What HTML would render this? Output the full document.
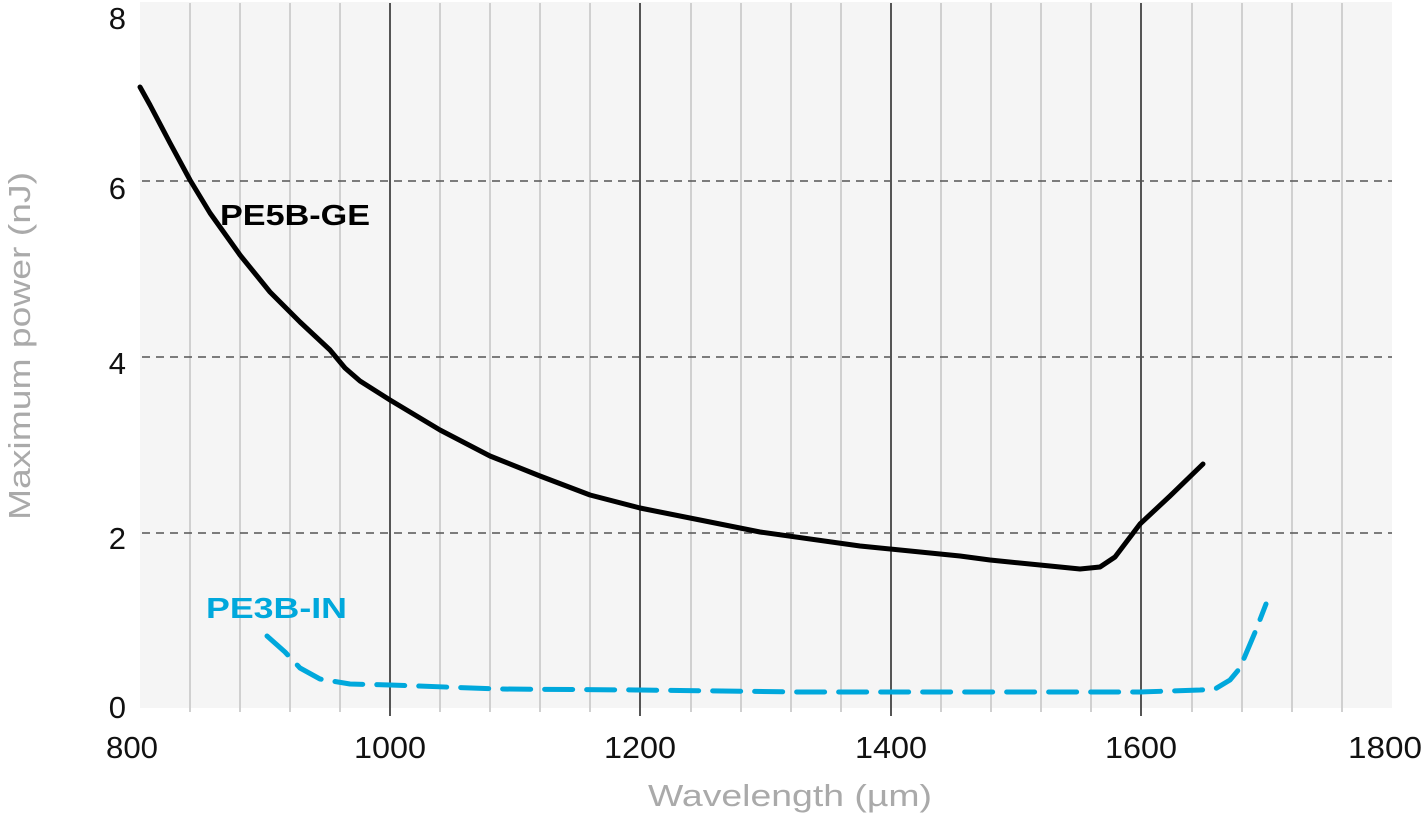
<!DOCTYPE html>
<html><head><meta charset="utf-8"><style>
html,body{margin:0;padding:0;background:#fff;}
svg{display:block;font-family:"Liberation Sans",sans-serif;}
</style></head><body>
<svg width="1425" height="815" viewBox="0 0 1425 815">
<rect x="140" y="2" width="1252" height="706" fill="#f5f5f5"/>
<g stroke="#d0d0d0" stroke-width="2">
<line x1="190" y1="3" x2="190" y2="712"/><line x1="240" y1="3" x2="240" y2="712"/><line x1="290" y1="3" x2="290" y2="712"/><line x1="340" y1="3" x2="340" y2="712"/>
<line x1="440" y1="3" x2="440" y2="712"/><line x1="490" y1="3" x2="490" y2="712"/><line x1="540" y1="3" x2="540" y2="712"/><line x1="590" y1="3" x2="590" y2="712"/>
<line x1="691" y1="3" x2="691" y2="712"/><line x1="741" y1="3" x2="741" y2="712"/><line x1="791" y1="3" x2="791" y2="712"/><line x1="841" y1="3" x2="841" y2="712"/>
<line x1="941" y1="3" x2="941" y2="712"/><line x1="991" y1="3" x2="991" y2="712"/><line x1="1041" y1="3" x2="1041" y2="712"/><line x1="1091" y1="3" x2="1091" y2="712"/>
<line x1="1192" y1="3" x2="1192" y2="712"/><line x1="1242" y1="3" x2="1242" y2="712"/><line x1="1292" y1="3" x2="1292" y2="712"/><line x1="1342" y1="3" x2="1342" y2="712"/>
</g>
<g stroke="#555" stroke-width="2">
<line x1="390" y1="3" x2="390" y2="716"/><line x1="640" y1="3" x2="640" y2="716"/><line x1="891" y1="3" x2="891" y2="716"/><line x1="1141" y1="3" x2="1141" y2="716"/>
</g>
<g stroke="#555" stroke-width="1.5" stroke-dasharray="8,6">
<line x1="142" y1="181" x2="1392" y2="181"/><line x1="142" y1="357" x2="1392" y2="357"/><line x1="142" y1="533" x2="1392" y2="533"/>
</g>
<path d="M140,87 L150,105 L170,143 L190,180 L210,213 L240,255 L270,292 L300,322 L330,350 L345,368 L360,381 L390,400 L440,430 L490,456 L540,476 L590,495 L640,508 L700,520 L760,532 L860,546 L960,556 L990,560 L1050,566 L1080,569 L1100,567 L1115,557 L1140,524 L1170,496 L1203,464" fill="none" stroke="#000" stroke-width="5" stroke-linejoin="round" stroke-linecap="round"/>
<path d="M267,636 L285,652 L300,668 L320,679 L350,684 L390,685 L500,689 L640,690 L800,692 L1000,692 L1140,692 L1200,690 L1215,689 L1230,680 L1240,668 L1245,656 L1256,630 L1266,604" fill="none" stroke="#00a8dc" stroke-width="5" stroke-dasharray="28,14" stroke-linecap="round" stroke-linejoin="round"/>
<text x="220" y="225" font-size="29" font-weight="bold" fill="#000" textLength="150" lengthAdjust="spacingAndGlyphs">PE5B-GE</text>
<text x="206" y="618" font-size="29" font-weight="bold" fill="#00a8dc" textLength="141" lengthAdjust="spacingAndGlyphs">PE3B-IN</text>
<g font-size="31" fill="#111">
<text x="106" y="758" textLength="52" lengthAdjust="spacingAndGlyphs">800</text>
<text x="354" y="758" textLength="72" lengthAdjust="spacingAndGlyphs">1000</text>
<text x="604" y="758" textLength="72" lengthAdjust="spacingAndGlyphs">1200</text>
<text x="855" y="758" textLength="72" lengthAdjust="spacingAndGlyphs">1400</text>
<text x="1105" y="758" textLength="72" lengthAdjust="spacingAndGlyphs">1600</text>
<text x="1348" y="758" textLength="74" lengthAdjust="spacingAndGlyphs">1800</text>
</g>
<g font-size="31" fill="#111" text-anchor="end">
<text x="126" y="29">8</text><text x="126" y="199">6</text><text x="126" y="374">4</text><text x="126" y="549">2</text><text x="126" y="718">0</text>
</g>
<text x="648" y="806" font-size="31" fill="#aaa" textLength="284" lengthAdjust="spacingAndGlyphs">Wavelength (µm)</text>
<text transform="translate(30,520) rotate(-90)" font-size="31" fill="#aaa" textLength="348" lengthAdjust="spacingAndGlyphs">Maximum power (nJ)</text>
</svg>
</body></html>
